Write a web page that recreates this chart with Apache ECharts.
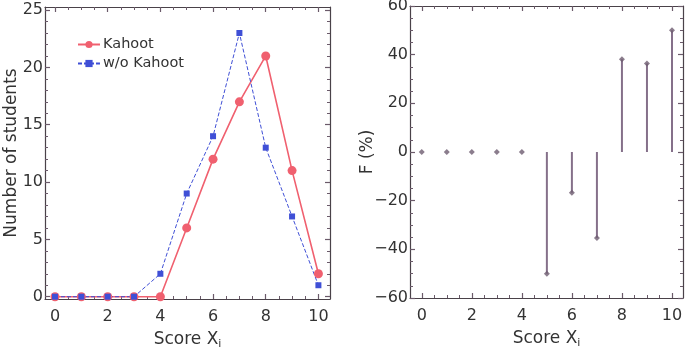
<!DOCTYPE html>
<html>
<head>
<meta charset="utf-8">
<script src="https://cdn.jsdelivr.net/npm/echarts@6/dist/echarts.min.js"></script>
<style>
  html, body { margin: 0; padding: 0; background: #fff; }
  #chart { width: 687px; height: 348px; }
</style>
</head>
<body>
<div id="chart"></div>
<script>
// Score of each student group (0..10)
const scores = [0, 1, 2, 3, 4, 5, 6, 7, 8, 9, 10];
// Number of students per score
const kahoot = [0, 0, 0, 0, 0, 6, 12, 17, 21, 11, 2];
const withoutKahoot = [0, 0, 0, 0, 2, 9, 14, 23, 13, 7, 1];
// Relative difference F (%) per score
const fPercent = [0, 0, 0, 0, 0, -50, -16.7, -35.3, 38.1, 36.4, 50];

// Tick labels
const scoreTicks = [0, 2, 4, 6, 8, 10];
const countTicks = [0, 5, 10, 15, 20, 25];
const fTicks = [-60, -40, -20, 0, 20, 40, 60];

function range(a, b, step) {
  const out = [];
  for (let v = a; v <= b + 1e-9; v += step) out.push(Math.round(v * 1000) / 1000);
  return out;
}
const scoreMinor = range(0, 10, 0.5);
const countMinor = range(0, 25, 1);
const fMinor = range(-60, 60, 5);

const FONT = 'DejaVu Sans';
const AXIS_COLOR = '#4a4249';
const TICK_COLOR = '#6b5a6a';
const TEXT_COLOR = '#333';

function fmt(v) { return String(v).replace('-', '\u2212'); }

// Builds a framed axis pair (main + mirrored) with major and minor inward ticks
function axes(dim, gridIndex, min, max, majors, minors, name, nameGap) {
  const main = dim === 'x' ? 'bottom' : 'left';
  const mirror = dim === 'x' ? 'top' : 'right';
  const base = { type: 'value', gridIndex, min, max, splitLine: { show: false } };
  const list = [];
  // labelled main axis
  list.push(Object.assign({}, base, {
    position: main,
    name: name,
    nameLocation: 'middle',
    nameGap: nameGap,
    nameMoveOverlap: false,
    nameTextStyle: dim === 'x'
      ? { fontFamily: FONT, fontSize: 17, color: TEXT_COLOR,
          rich: { sub: { fontFamily: FONT, fontSize: 11, color: TEXT_COLOR, padding: [9, 0, 0, 0] } } }
      : { fontFamily: FONT, fontSize: 17, color: TEXT_COLOR },
    axisLine: { show: true, lineStyle: { color: AXIS_COLOR, width: 1.2 } },
    axisTick: { show: true, inside: true, length: 5, customValues: majors, lineStyle: { color: TICK_COLOR, width: 1.2 } },
    axisLabel: { show: true, customValues: majors, fontFamily: FONT, fontSize: 16, color: TEXT_COLOR,
                 margin: dim === 'x' ? 10 : 2, formatter: fmt }
  }));
  // minor ticks on main side
  list.push(Object.assign({}, base, {
    position: main,
    axisLine: { show: false },
    axisTick: { show: true, inside: true, length: 3, customValues: minors, lineStyle: { color: TICK_COLOR, width: 1 } },
    axisLabel: { show: false }
  }));
  // mirrored frame side
  list.push(Object.assign({}, base, {
    position: mirror,
    axisLine: { show: true, lineStyle: { color: AXIS_COLOR, width: 1.2 } },
    axisTick: { show: true, inside: true, length: 5, customValues: majors, lineStyle: { color: TICK_COLOR, width: 1.2 } },
    axisLabel: { show: false }
  }));
  list.push(Object.assign({}, base, {
    position: mirror,
    axisLine: { show: false },
    axisTick: { show: true, inside: true, length: 3, customValues: minors, lineStyle: { color: TICK_COLOR, width: 1 } },
    axisLabel: { show: false }
  }));
  list.forEach(a => { a.axisLine.onZero = false; });
  return list;
}

const xAxes = [].concat(
  axes('x', 0, -0.38, 10.44, scoreTicks, scoreMinor, 'Score X{sub|i}', 31),
  axes('x', 1, -0.47, 10.44, scoreTicks, scoreMinor, 'Score X{sub|i}', 31)
);
const yAxes = [].concat(
  axes('y', 0, -0.2, 25.27, countTicks, countMinor, 'Number of students', 25),
  axes('y', 1, -60, 60, fTicks, fMinor, 'F (%)', 34)
);

const pairs = (xs, ys) => xs.map((x, i) => [x, ys[i]]);

const chart = echarts.init(document.getElementById('chart'), null, { renderer: 'canvas' });
chart.setOption({
  animation: false,
  backgroundColor: '#fff',
  grid: [
    { left: 45, top: 7, width: 285, height: 292, outerBoundsMode: 'none', containLabel: false },
    { left: 410, top: 6, width: 273, height: 292, outerBoundsMode: 'none', containLabel: false }
  ],
  xAxis: xAxes,
  yAxis: yAxes,
  legend: {
    left: 72, top: 32,
    orient: 'vertical',
    itemGap: 4,
    itemWidth: 22, itemHeight: 9,
    textStyle: { fontFamily: FONT, fontSize: 14.5, color: TEXT_COLOR, padding: [0, 0, 0, -2] },
    data: ['Kahoot', 'w/o Kahoot']
  },
  series: [
    {
      name: 'Kahoot', type: 'line', xAxisIndex: 0, yAxisIndex: 0,
      data: pairs(scores, kahoot),
      symbol: 'circle', symbolSize: 9,
      itemStyle: { color: '#f0606f' },
      lineStyle: { color: '#f0606f', width: 1.6 }
    },
    {
      name: 'w/o Kahoot', type: 'line', xAxisIndex: 0, yAxisIndex: 0,
      data: pairs(scores, withoutKahoot),
      symbol: 'rect', symbolSize: 6,
      itemStyle: { color: '#3f4fd6' },
      lineStyle: { color: '#3f4fd6', width: 1, type: [4, 2] }
    },
    {
      name: 'F stems', type: 'bar', xAxisIndex: 4, yAxisIndex: 4,
      data: pairs(scores, fPercent),
      barWidth: 2,
      itemStyle: { color: '#85708a' }
    },
    {
      name: 'F', type: 'scatter', xAxisIndex: 4, yAxisIndex: 4,
      data: pairs(scores, fPercent),
      symbol: 'diamond', symbolSize: 6,
      itemStyle: { color: '#6e5d70' },
      z: 5
    }
  ]
});
</script>
</body>
</html>
